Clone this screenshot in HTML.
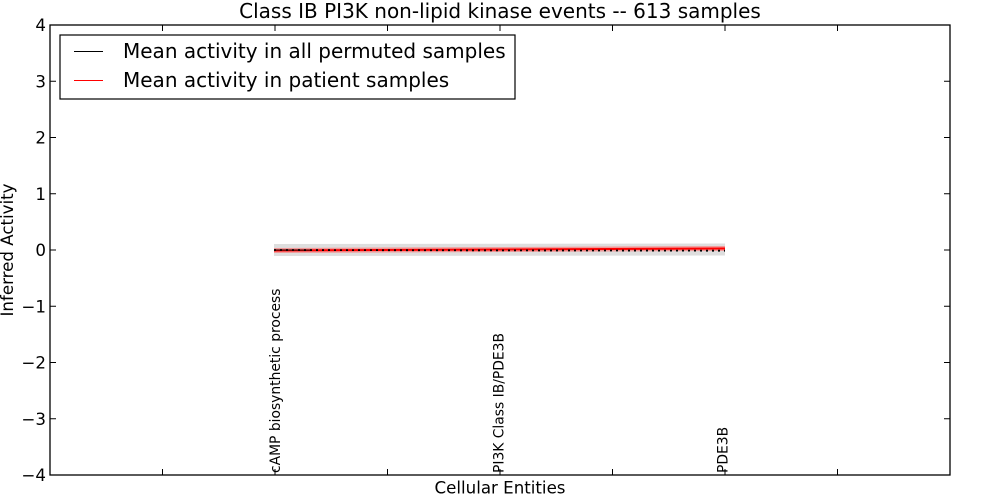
<!DOCTYPE html>
<html>
<head>
<meta charset="utf-8">
<style>
  html, body { margin: 0; padding: 0; background: #ffffff; }
  svg { display: block; }
  text { font-family: "DejaVu Sans", "Liberation Sans", sans-serif; fill: #000; }
</style>
</head>
<body>
<svg width="1000" height="500" viewBox="0 0 1000 500" xmlns="http://www.w3.org/2000/svg">
  <rect x="0" y="0" width="1000" height="500" fill="#ffffff"/>

  <!-- Title -->
  <text x="500" y="18" font-size="20" text-anchor="middle">Class IB PI3K non-lipid kinase events -- 613 samples</text>

  <!-- Data: gray band -->
  <polygon points="274,244 725,243.5 725,255.5 274,256" fill="#d8d8d8" fill-opacity="0.85"/>
  <!-- red band -->
  <polygon points="274,248 725,246 725,251 274,253" fill="#ff6b6b" fill-opacity="0.6"/>
  <!-- red line -->
  <line x1="274" y1="250.5" x2="725" y2="248.5" stroke="#ff0000" stroke-width="2"/>
  <!-- black dotted line -->
  <line x1="274" y1="250" x2="725" y2="250.7" stroke="#000000" stroke-width="1.8" stroke-dasharray="2,4"/>
  <line x1="274" y1="250" x2="310" y2="250.1" stroke="#000000" stroke-width="1.2" stroke-opacity="0.7"/>

  <!-- Axes frame -->
  <rect x="50" y="25" width="900" height="450" fill="none" stroke="#000" stroke-width="1.3"/>

  <!-- Ticks -->
  <g stroke="#000" stroke-width="1">
    <line x1="50" y1="81.25" x2="56" y2="81.25"/>
    <line x1="50" y1="137.5" x2="56" y2="137.5"/>
    <line x1="50" y1="193.75" x2="56" y2="193.75"/>
    <line x1="50" y1="250" x2="56" y2="250"/>
    <line x1="50" y1="306.25" x2="56" y2="306.25"/>
    <line x1="50" y1="362.5" x2="56" y2="362.5"/>
    <line x1="50" y1="418.75" x2="56" y2="418.75"/>

    <line x1="944" y1="81.25" x2="950" y2="81.25"/>
    <line x1="944" y1="137.5" x2="950" y2="137.5"/>
    <line x1="944" y1="193.75" x2="950" y2="193.75"/>
    <line x1="944" y1="250" x2="950" y2="250"/>
    <line x1="944" y1="306.25" x2="950" y2="306.25"/>
    <line x1="944" y1="362.5" x2="950" y2="362.5"/>
    <line x1="944" y1="418.75" x2="950" y2="418.75"/>

    <line x1="162.5" y1="475" x2="162.5" y2="469"/>
    <line x1="275" y1="475" x2="275" y2="469"/>
    <line x1="387.5" y1="475" x2="387.5" y2="469"/>
    <line x1="500" y1="475" x2="500" y2="469"/>
    <line x1="612.5" y1="475" x2="612.5" y2="469"/>
    <line x1="725" y1="475" x2="725" y2="469"/>
    <line x1="837.5" y1="475" x2="837.5" y2="469"/>

    <line x1="162.5" y1="25" x2="162.5" y2="31"/>
    <line x1="275" y1="25" x2="275" y2="31"/>
    <line x1="387.5" y1="25" x2="387.5" y2="31"/>
    <line x1="500" y1="25" x2="500" y2="31"/>
    <line x1="612.5" y1="25" x2="612.5" y2="31"/>
    <line x1="725" y1="25" x2="725" y2="31"/>
    <line x1="837.5" y1="25" x2="837.5" y2="31"/>
  </g>

  <!-- Y tick labels -->
  <g font-size="16.67" text-anchor="end">
    <text x="46" y="31">4</text>
    <text x="46" y="87.25">3</text>
    <text x="46" y="143.5">2</text>
    <text x="46" y="199.75">1</text>
    <text x="46" y="256">0</text>
    <text x="46" y="312.25">−1</text>
    <text x="46" y="368.5">−2</text>
    <text x="46" y="424.75">−3</text>
    <text x="46" y="481">−4</text>
  </g>

  <!-- X tick labels (rotated) -->
  <g font-size="13.86">
    <text transform="translate(280,473) rotate(-90)">cAMP biosynthetic process</text>
    <text transform="translate(503.5,473) rotate(-90)">PI3K Class IB/PDE3B</text>
    <text transform="translate(727.5,473) rotate(-90)">PDE3B</text>
  </g>

  <!-- Axis labels -->
  <text x="500" y="493.5" font-size="16.67" text-anchor="middle">Cellular Entities</text>
  <text transform="translate(13,250) rotate(-90)" font-size="16.67" text-anchor="middle">Inferred Activity</text>

  <!-- Legend -->
  <rect x="60" y="35" width="455" height="64" fill="#ffffff" stroke="#000" stroke-width="1.2"/>
  <line x1="74" y1="51.5" x2="103" y2="51.5" stroke="#000" stroke-width="1" shape-rendering="crispEdges"/>
  <line x1="74" y1="80.5" x2="103" y2="80.5" stroke="#ff0000" stroke-width="1" shape-rendering="crispEdges"/>
  <text x="123" y="58" font-size="20">Mean activity in all permuted samples</text>
  <text x="123" y="87" font-size="20">Mean activity in patient samples</text>
</svg>
</body>
</html>
